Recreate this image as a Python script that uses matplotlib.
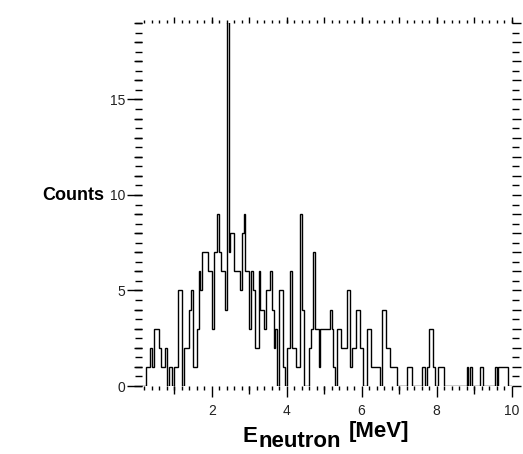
import numpy as np
import matplotlib
matplotlib.use("Agg")
import matplotlib.pyplot as plt
from matplotlib.ticker import MultipleLocator, NullFormatter

plt.rcParams['font.family'] = ['Liberation Sans', 'DejaVu Sans']

# neutron energy spectrum, 0.05 MeV bins from 0 to 10 MeV
bin_edges = np.linspace(0.0, 10.0, 201)
counts = [
    0, 0, 0, 0, 0, 1, 1, 2, 1, 3,     # 0.0 - 0.5
    3, 3, 2, 1, 1, 2, 0, 1, 1, 0,     # 0.5 - 1.0
    1, 1, 5, 5, 0, 2, 2, 2, 4, 5,     # 1.0 - 1.5
    1, 1, 3, 6, 5, 7, 7, 7, 6, 6,     # 1.5 - 2.0
    3, 7, 7, 9, 7, 6, 6, 4, 20, 7,    # 2.0 - 2.5
    8, 8, 6, 6, 6, 5, 8, 9, 6, 6,     # 2.5 - 3.0
    3, 6, 5, 2, 2, 6, 4, 4, 3, 5,     # 3.0 - 3.5
    5, 6, 4, 2, 3, 0, 5, 5, 1, 0,     # 3.5 - 4.0
    2, 2, 6, 2, 2, 1, 1, 9, 4, 0,     # 4.0 - 4.5
    0, 0, 2, 3, 7, 3, 3, 1, 3, 3,     # 4.5 - 5.0
    3, 3, 3, 4, 3, 1, 0, 3, 3, 2,     # 5.0 - 5.5
    2, 2, 5, 5, 1, 2, 2, 4, 4, 2,     # 5.5 - 6.0
    2, 0, 0, 3, 3, 1, 1, 1, 1, 1,     # 6.0 - 6.5
    0, 4, 4, 2, 2, 1, 1, 1, 1, 0,     # 6.5 - 7.0
    0, 0, 0, 0, 1, 1, 1, 0, 0, 0,     # 7.0 - 7.5
    0, 0, 1, 1, 0, 1, 3, 3, 1, 0,     # 7.5 - 8.0
    0, 1, 1, 1, 0, 0, 0, 0, 0, 0,     # 8.0 - 8.5
    0, 0, 0, 0, 0, 0, 1, 0, 1, 0,     # 8.5 - 9.0
    0, 0, 0, 1, 1, 0, 0, 0, 0, 0,     # 9.0 - 9.5
    0, 1, 0, 1, 1, 1, 1, 1, 0, 0,     # 9.5 - 10.0
]

W, H = 523, 454
PT = 0.72  # points per pixel at dpi 100

fig = plt.figure(figsize=(W / 100, H / 100), dpi=100)
rect = [142 / W, 1 - 386 / H, (511.5 - 142) / W, (386 - 23) / H]
ax = fig.add_axes(rect)
ax.stairs(counts, bin_edges, color='black', lw=1.0, baseline=0)
ax.set_xlim(0.14, 10.0)
ax.set_ylim(0, 19)

for s in ax.spines.values():
    s.set_visible(False)

# main ticks: labelled bottom and left
ax.xaxis.set_major_locator(MultipleLocator(2))
ax.xaxis.set_minor_locator(MultipleLocator(0.2))
ax.yaxis.set_major_locator(MultipleLocator(5))
ax.yaxis.set_minor_locator(MultipleLocator(0.5))
ax.tick_params(axis='x', which='major', direction='out', length=11 * PT, width=1,
               labelsize=10, pad=5, labelcolor='#222222')
ax.tick_params(axis='x', which='minor', direction='out', length=4 * PT, width=1)
ax.tick_params(axis='y', which='major', direction='out', length=15 * PT, width=1,
               labelsize=10, pad=1.5, labelcolor='#222222')
ax.tick_params(axis='y', which='minor', direction='out', length=7 * PT, width=1)

# extra tick levels (odd MeV, whole counts), top and right ticks
ax2 = fig.add_axes(rect, frameon=False)
ax2.patch.set_visible(False)
ax2.set_xlim(ax.get_xlim())
ax2.set_ylim(ax.get_ylim())
ax2.xaxis.set_major_locator(MultipleLocator(2, offset=1))
ax2.xaxis.set_minor_locator(MultipleLocator(0.2))
ax2.yaxis.set_major_locator(MultipleLocator(1))
ax2.yaxis.set_minor_locator(MultipleLocator(0.5))
ax2.xaxis.set_major_formatter(NullFormatter())
ax2.yaxis.set_major_formatter(NullFormatter())
ax2.tick_params(axis='x', which='major', bottom=True, top=False, direction='out',
                length=8 * PT, width=1)
ax2.tick_params(axis='x', which='minor', bottom=False, top=True, direction='out',
                length=3.5 * PT, width=1)
ax2.tick_params(axis='y', which='major', left=True, right=True, direction='out',
                length=8.5 * PT, width=1)
ax2.tick_params(axis='y', which='minor', left=False, right=True, direction='out',
                length=7 * PT, width=1)

ax3 = fig.add_axes(rect, frameon=False)
ax3.patch.set_visible(False)
ax3.set_xlim(ax.get_xlim())
ax3.set_ylim(ax.get_ylim())
ax3.xaxis.set_major_locator(MultipleLocator(1))
ax3.yaxis.set_major_locator(MultipleLocator(100))
ax3.xaxis.set_major_formatter(NullFormatter())
ax3.yaxis.set_major_formatter(NullFormatter())
ax3.tick_params(axis='x', which='major', bottom=False, top=True, direction='out',
                length=6 * PT, width=1)
ax3.tick_params(axis='y', left=False, right=False)

# axis titles
fig.text(104 / W, 1 - 196 / H, 'Counts', fontsize=13, fontweight='bold',
         ha='right', va='center')
fig.text(243 / W, 1 - 442 / H, 'E', fontsize=16, fontweight='bold', va='baseline')
fig.text(259 / W, 1 - 447 / H, 'neutron', fontsize=16, fontweight='bold', va='baseline')
fig.text(349 / W, 1 - 437 / H, '[MeV]', fontsize=16, fontweight='bold', va='baseline')

fig.savefig('out.png', dpi=100)
